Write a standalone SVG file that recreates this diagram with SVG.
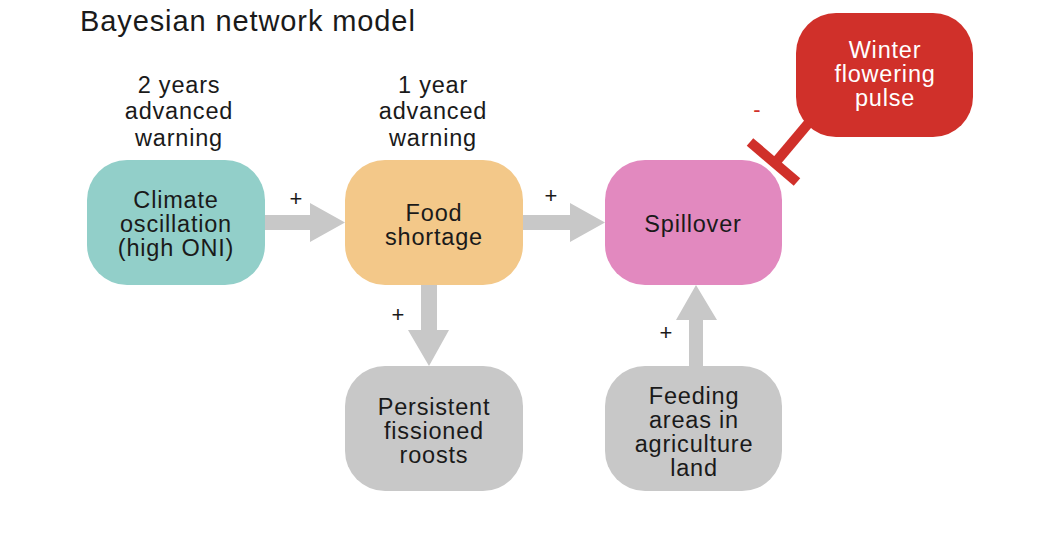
<svg xmlns="http://www.w3.org/2000/svg" width="1056" height="556" viewBox="0 0 1056 556">
<style>
text{font-family:"Liberation Sans",Arial,sans-serif;fill:#1a1a1a;text-anchor:middle;font-size:23.5px;letter-spacing:0.8px}
.title{text-anchor:start;font-size:29px;letter-spacing:0.9px}
.sign{font-size:22px;letter-spacing:0}
.arrow{fill:#c8c8c8}
</style>
<rect width="1056" height="556" fill="#fff"/>
<text class="title" x="80" y="31">Bayesian network model</text>
<g id="label-2y"><text x="179" y="93">2 years</text><text x="179" y="119">advanced</text><text x="179" y="146">warning</text></g>
<g id="label-1y"><text x="433" y="93">1 year</text><text x="433" y="119">advanced</text><text x="433" y="146">warning</text></g>
<g id="connectors">
<polygon class="arrow" points="265,215 310,215 310,203 345,222.5 310,242 310,230 265,230"/>
<polygon class="arrow" points="523,215 570,215 570,203 605,222.5 570,242 570,230 523,230"/>
<polygon class="arrow" points="421,285 437,285 437,330 449,330 429,366 408,330 421,330"/>
<polygon class="arrow" points="689,366 703,366 703,320 717,320 696,285 676,320 689,320"/>
<line x1="812" y1="119" x2="775" y2="163" stroke="#d0302a" stroke-width="10"/>
<line x1="750" y1="142" x2="797" y2="182" stroke="#d0302a" stroke-width="10"/>
<text class="sign" x="296" y="206">+</text>
<text class="sign" x="551" y="203">+</text>
<text class="sign" x="398" y="322">+</text>
<text class="sign" x="666" y="340">+</text>
<text class="sign" x="757" y="117" style="fill:#d0302a">-</text>
</g>
<g id="climate"><rect x="87" y="160" width="178" height="125" rx="40" fill="#92cfc9"/><text x="176" y="208">Climate</text><text x="176" y="232">oscillation</text><text x="176" y="256">(high ONI)</text></g>
<g id="food"><rect x="345" y="160" width="178" height="125" rx="40" fill="#f3c889"/><text x="434" y="221">Food</text><text x="434" y="245">shortage</text></g>
<g id="spillover"><rect x="605" y="160" width="177" height="125" rx="40" fill="#e289bf"/><text x="693" y="232">Spillover</text></g>
<g id="winter"><rect x="796" y="13" width="177" height="124" rx="40" fill="#d0302a"/><text x="885" y="58" style="fill:#fff">Winter</text><text x="885" y="82" style="fill:#fff">flowering</text><text x="885" y="106" style="fill:#fff">pulse</text></g>
<g id="persistent"><rect x="345" y="366" width="178" height="125" rx="40" fill="#c8c8c8"/><text x="434" y="415">Persistent</text><text x="434" y="439">fissioned</text><text x="434" y="463">roosts</text></g>
<g id="feeding"><rect x="605" y="366" width="177" height="125" rx="40" fill="#c8c8c8"/><text x="694" y="404">Feeding</text><text x="694" y="428">areas in</text><text x="694" y="452">agriculture</text><text x="694" y="476">land</text></g>
</svg>
